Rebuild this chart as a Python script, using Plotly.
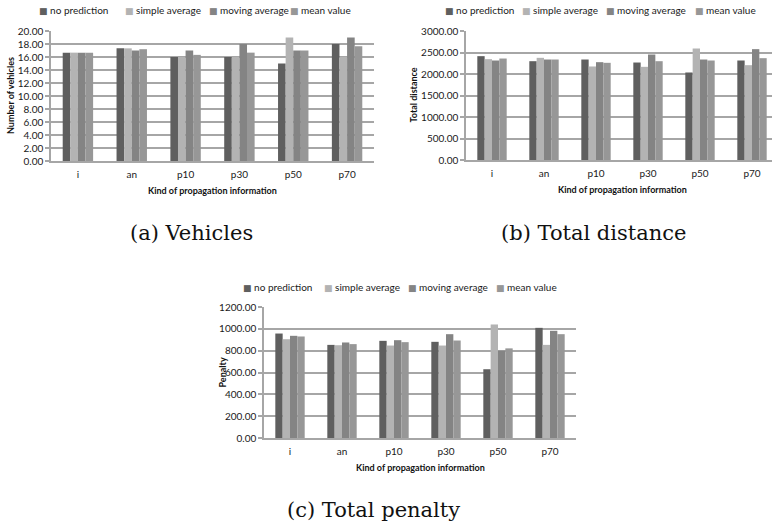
import plotly.graph_objects as go

W, H = 772, 523

categories = ["i", "an", "p10", "p30", "p50", "p70"]
series_names = ["no prediction", "simple average", "moving average", "mean value"]
colors = ["#5f5f5f", "#b3b3b3", "#848484", "#979797"]

vehicles_no_prediction = [16.67, 17.33, 16.00, 16.00, 15.00, 18.00]
vehicles_simple_average = [16.67, 17.33, 16.00, 16.00, 19.00, 16.00]
vehicles_moving_average = [16.67, 17.00, 17.00, 18.00, 17.00, 19.00]
vehicles_mean_value = [16.67, 17.20, 16.33, 16.67, 17.00, 17.67]

distance_no_prediction = [2415, 2298, 2337, 2267, 2035, 2314]
distance_simple_average = [2345, 2376, 2175, 2167, 2593, 2205]
distance_moving_average = [2314, 2337, 2275, 2453, 2337, 2578]
distance_mean_value = [2360, 2337, 2260, 2298, 2314, 2368]

penalty_no_prediction = [957, 853, 890, 881, 630, 1009]
penalty_simple_average = [905, 850, 847, 847, 1040, 853]
penalty_moving_average = [936, 875, 896, 951, 800, 982]
penalty_mean_value = [930, 860, 878, 893, 821, 951]

y_titles = ["Number of vehicles", "Total distance", "Penalty"]
x_title = "Kind of propagation information"
captions = ["(a) Vehicles", "(b) Total distance", "(c) Total penalty"]

panels = [
    [vehicles_no_prediction, vehicles_simple_average, vehicles_moving_average, vehicles_mean_value],
    [distance_no_prediction, distance_simple_average, distance_moving_average, distance_mean_value],
    [penalty_no_prediction, penalty_simple_average, penalty_moving_average, penalty_mean_value],
]
y_ranges = [(0, 20), (0, 3000), (0, 1200)]
y_dticks = [2, 500, 200]

# pixel boxes in window pixels: (left, right, top, bottom)
boxes = [(51, 374, 31, 161), (466, 778, 31, 160), (264, 576, 307, 438)]

def px_x(v):
    return v / W

def px_y(v):
    return 1 - v / H

FONT = "Lato, Carlito, Calibri, sans-serif"
GRID = "#a6a6a6"
TXT = "#1a1a1a"

fig = go.Figure()
for p, data in enumerate(panels):
    ax = "" if p == 0 else str(p + 1)
    for s, vals in enumerate(data):
        fig.add_trace(go.Bar(
            x=categories, y=vals, name=series_names[s],
            marker=dict(color=colors[s], line=dict(width=0)),
            xaxis="x" + ax, yaxis="y" + ax, showlegend=False,
        ))

layout = dict(
    width=W, height=H,
    margin=dict(l=0, r=0, t=0, b=0, autoexpand=False),
    paper_bgcolor="white", plot_bgcolor="white",
    barmode="group", bargap=0.435, bargroupgap=0.0,
    font=dict(family=FONT, size=10, color=TXT),
    showlegend=False,
)

annotations = []
for p in range(3):
    l, r, t, b = boxes[p]
    ax = "" if p == 0 else str(p + 1)
    r_vis = min(r, W)
    cat_w = (r - l) / 6.0
    x_hi = -0.5 + (r_vis - l) / cat_w
    layout["xaxis" + ax] = dict(
        domain=[px_x(l), min(px_x(r_vis), 1.0)], anchor="y" + ax,
        range=[-0.5, x_hi],
        showline=True, linecolor=GRID, linewidth=1.5,
        ticks="", ticklabelstandoff=3,
        tickfont=dict(size=10, family=FONT, color=TXT),
        showgrid=False, fixedrange=True,
    )
    layout["yaxis" + ax] = dict(
        domain=[px_y(b), px_y(t)], anchor="x" + ax,
        range=list(y_ranges[p]), dtick=y_dticks[p], tickformat=".2f",
        showline=True, linecolor=GRID, linewidth=1.5,
        ticks="outside", ticklen=4, tickcolor=GRID, tickwidth=1.5,
        showgrid=True, gridcolor=GRID, gridwidth=1.5,
        zeroline=False, tickfont=dict(size=10, family=FONT, color=TXT),
        fixedrange=True,
    )
    # x-axis title
    annotations.append(dict(
        text="<b>" + x_title + "</b>", x=px_x((l + r) / 2), y=px_y(b + 29),
        xref="paper", yref="paper", showarrow=False,
        font=dict(size=9, family=FONT, color="#111"), xanchor="center", yanchor="middle",
    ))

# legends (one per panel), built from the series names and colours
legend_x = [[37, 123, 207, 288], [443, 520, 604, 693], [241, 322, 406, 494]]
legend_y = [10, 10, 287]
for p in range(3):
    for s in range(4):
        annotations.append(dict(
            text='<span style="color:%s;font-family:DejaVu Sans;font-size:9px">\u25A0</span> %s'
                 % (colors[s], series_names[s]),
            x=px_x(legend_x[p][s]), y=px_y(legend_y[p]), xref="paper", yref="paper",
            showarrow=False, xanchor="left", yanchor="middle",
            font=dict(size=10, family=FONT, color=TXT),
        ))

yt_x = [10, 413, 222]
for p in range(3):
    l, r, t, b = boxes[p]
    annotations.append(dict(
        text="<b>" + y_titles[p] + "</b>", x=px_x(yt_x[p]), y=px_y((t + b) / 2),
        xref="paper", yref="paper", showarrow=False, textangle=-90,
        font=dict(size=9, family=FONT, color="#111"), xanchor="center", yanchor="middle",
    ))
cap_pos = [(191, 233), (593, 233), (373, 510)]
for p in range(3):
    cxp, cyp = cap_pos[p]
    annotations.append(dict(
        text=captions[p], x=px_x(cxp), y=px_y(cyp), xref="paper", yref="paper",
        showarrow=False, font=dict(size=21, family="DejaVu Serif", color="#111"),
        xanchor="center", yanchor="middle",
    ))
layout["annotations"] = annotations
fig.update_layout(**layout)

# remove the default 8px page margin so the figure fills the window exactly
fig.write_html("out.html", config={"displayModeBar": False},
               post_script="document.body.style.margin='0';")
